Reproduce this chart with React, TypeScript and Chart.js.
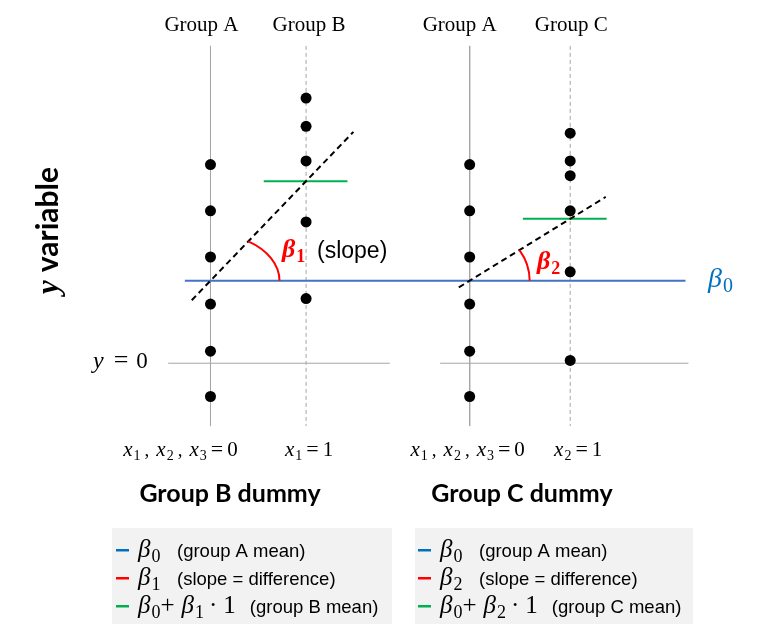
import React, { useEffect, useRef } from "react";
import { Chart, registerables } from "chart.js";
Chart.register(...registerables);

// ---- data (y variable units) ----
const groupA = [4.3, 3.3, 2.3, 1.28, 0.26, -0.72];
const groupB = [5.74, 5.13, 4.38, 3.06, 1.4];
const groupC = [4.98, 4.38, 4.06, 3.3, 1.98, 0.06];
const dummyValues = [0, 1];
const topLabelsB = ["Group A", "Group B"];
const topLabelsC = ["Group A", "Group C"];
const panelTitles = ["Group B dummy", "Group C dummy"];
const legendNotesB = ["(group A mean)", "(slope = difference)", "(group B mean)"];
const legendNotesC = ["(group A mean)", "(slope = difference)", "(group C mean)"];

const mean = (a: number[]) => a.reduce((s, v) => s + v, 0) / a.length;
const meanA = mean(groupA);
const meanB = mean(groupB);
const meanC = mean(groupC);
const beta1 = meanB - meanA;
const beta2 = meanC - meanA;

const SERIF = '"Liberation Serif", "DejaVu Serif", serif';
const SANS = '"Liberation Sans", Arial, sans-serif';
const BSANS = 'Lato, "Open Sans", sans-serif';
const BLUE = "#4472C4";
const BLUE_T = "#0070C0";
const RED = "#FF0000";
const GREEN = "#00B050";
const GRAY = "#A6A6A6";

type Run = { t: string; f: string; dy?: number; c?: string; gap?: number };

function drawRuns(ctx: CanvasRenderingContext2D, runs: Run[], x: number, y: number, align: "left" | "center" = "left", color = "#000") {
  let total = 0;
  for (const r of runs) {
    ctx.font = r.f;
    total += ctx.measureText(r.t).width + (r.gap || 0);
  }
  let cx = align === "center" ? x - total / 2 : x;
  ctx.textAlign = "left";
  ctx.textBaseline = "alphabetic";
  for (const r of runs) {
    ctx.font = r.f;
    ctx.fillStyle = r.c || color;
    ctx.fillText(r.t, cx, y + (r.dy || 0));
    cx += ctx.measureText(r.t).width + (r.gap || 0);
  }
  return cx;
}

const it = (s: number) => `italic ${s}px ${SERIF}`;
const rm = (s: number) => `${s}px ${SERIF}`;

function betaRuns(sub: string, size: number, color?: string, bold = false, gap = 0): Run[] {
  const w = bold ? "bold " : "";
  return [
    { t: "β", f: `${w}italic ${size}px ${SERIF}`, c: color, gap: 1 },
    { t: sub, f: `${w}${Math.round(size * 0.7)}px ${SERIF}`, dy: size * 0.2, c: color, gap },
  ];
}

function xLabel(subs: string[], value: string, sp: number): Run[] {
  const runs: Run[] = [];
  subs.forEach((s, i) => {
    runs.push({ t: "x", f: it(21), gap: 1 });
    runs.push({ t: s, f: rm(14), dy: 4, gap: sp });
    if (i < subs.length - 1) runs.push({ t: ",", f: rm(19), gap: sp + 3 });
  });
  runs.push({ t: "=", f: rm(22), gap: 4 });
  runs.push({ t: value, f: rm(21) });
  return runs;
}

const decorPlugin = {
  id: "decor",
  beforeDatasetsDraw(chart: any) {
    const ctx: CanvasRenderingContext2D = chart.ctx;
    ctx.save();
    ctx.fillStyle = "#F2F2F2";
    ctx.fillRect(112, 528, 280, 96);
    ctx.fillRect(415, 528, 278, 96);
    ctx.restore();
  },
  afterDatasetsDraw(chart: any) {
    const ctx: CanvasRenderingContext2D = chart.ctx;
    const sx = chart.scales.x;
    const sx2 = chart.scales.x2;
    const sy = chart.scales.y;
    ctx.save();

    // red angle arcs
    const arcs = [
      { s: sx, mb: meanB, rx: 69, ry: 47 },
      { s: sx2, mb: meanC, rx: 60, ry: 55 },
    ];
    for (const a of arcs) {
      const cx = a.s.getPixelForValue(0);
      const cy = sy.getPixelForValue(meanA);
      const slope = (cy - sy.getPixelForValue(a.mb)) / (a.s.getPixelForValue(1) - cx);
      const t = Math.atan((slope * a.rx) / a.ry);
      ctx.beginPath();
      ctx.strokeStyle = RED;
      ctx.lineWidth = 2;
      ctx.ellipse(cx, cy, a.rx, a.ry, 0, -t, 0);
      ctx.stroke();
    }

    // top group labels
    const offB = [-9, 3];
    const offC = [-10, 1];
    dummyValues.forEach((d, i) => {
      drawRuns(ctx, [{ t: topLabelsB[i], f: rm(21) }], sx.getPixelForValue(d) + offB[i], 31, "center");
      drawRuns(ctx, [{ t: topLabelsC[i], f: rm(21) }], sx2.getPixelForValue(d) + offC[i], 31, "center");
    });

    // x labels
    drawRuns(ctx, xLabel(["1", "2", "3"], "0", 4), sx.getPixelForValue(0) - 30, 456, "center");
    drawRuns(ctx, xLabel(["1"], "1", 4), sx.getPixelForValue(1) + 3, 456, "center");
    drawRuns(ctx, xLabel(["1", "2", "3"], "0", 4), sx2.getPixelForValue(0) - 2, 456, "center");
    drawRuns(ctx, xLabel(["2"], "1", 4), sx2.getPixelForValue(1) + 8, 456, "center");

    // panel titles
    drawRuns(ctx, [{ t: panelTitles[0], f: `bold 25px ${BSANS}` }], 230, 502, "center");
    drawRuns(ctx, [{ t: panelTitles[1], f: `bold 25px ${BSANS}` }], 522, 502, "center");

    // y = 0 label
    drawRuns(ctx, [{ t: "y", f: it(24), gap: 10 }, { t: "=", f: rm(26), gap: 8 }, { t: "0", f: rm(23) }], 93, sy.getPixelForValue(0) + 5);

    // y variable (rotated)
    ctx.save();
    ctx.translate(58, 294);
    ctx.rotate(-Math.PI / 2);
    drawRuns(ctx, [{ t: "y", f: `bold italic 31px ${SERIF}`, gap: 8 }, { t: "variable", f: `bold 30px ${BSANS}` }], 0, 0);
    ctx.restore();

    // beta labels on chart
    const yA = sy.getPixelForValue(meanA);
    drawRuns(ctx, betaRuns("1", 26, RED, true), 282, 257);
    drawRuns(ctx, [{ t: "(slope)", f: `23px ${SANS}` }], 317, 258);
    drawRuns(ctx, betaRuns("2", 26, RED, true), 537, 269);
    drawRuns(ctx, betaRuns("0", 28, BLUE_T), 708, yA + 6);

    // legends
    const legends = [
      { x: 116, b: "1", notes: legendNotesB },
      { x: 418, b: "2", notes: legendNotesC },
    ];
    const rowY = [557, 585, 613];
    const cols = [BLUE_T, RED, GREEN];
    const NOTE = `18.5px ${SANS}`;
    for (const L of legends) {
      rowY.forEach((yb, i) => {
        ctx.fillStyle = cols[i];
        ctx.fillRect(L.x, yb - 8, 13, 2.5);
        const bx = L.x + 22;
        if (i === 0) {
          drawRuns(ctx, betaRuns("0", 25), bx, yb);
          drawRuns(ctx, [{ t: L.notes[i], f: NOTE }], bx + 39, yb);
        } else if (i === 1) {
          drawRuns(ctx, betaRuns(L.b, 25), bx, yb);
          drawRuns(ctx, [{ t: L.notes[i], f: NOTE }], bx + 39, yb);
        } else {
          const e = drawRuns(
            ctx,
            [
              ...betaRuns("0", 25),
              { t: "+", f: rm(25), gap: 7 },
              ...betaRuns(L.b, 25, undefined, false, 5),
              { t: "·", f: rm(25), gap: 6 },
              { t: "1", f: rm(25) },
            ],
            bx,
            yb
          );
          drawRuns(ctx, [{ t: L.notes[i], f: NOTE }], e + 14, yb);
        }
      });
    }
    ctx.restore();
  },
};

function line(points: { x: number; y: number }[], axis: string, color: string, width: number, dash: number[] = [], order = 2) {
  return {
    data: points,
    xAxisID: axis,
    showLine: true,
    borderColor: color,
    borderWidth: width,
    borderDash: dash,
    pointRadius: 0,
    fill: false,
    order,
  };
}

function pts(vals: number[], xv: number, axis: string) {
  return {
    data: vals.map((y) => ({ x: xv, y })),
    xAxisID: axis,
    showLine: false,
    pointRadius: 5.5,
    pointBackgroundColor: "#000",
    pointBorderColor: "#000",
    pointBorderWidth: 0,
    order: 0,
  };
}

export default function App() {
  const ref = useRef<HTMLCanvasElement | null>(null);
  useEffect(() => {
    document.body.style.margin = "0";
    if (!ref.current) return;
    const vTop = 6.87;
    const vBot = -1.36;
    const chart = new Chart(ref.current, {
      type: "scatter",
      data: {
        datasets: [
          pts(groupA, 0, "x"),
          pts(groupB, 1, "x"),
          pts(groupA, 0, "x2"),
          pts(groupC, 1, "x2"),
          line([{ x: 0, y: vTop }, { x: 0, y: vBot }], "x", GRAY, 1, [], 5),
          line([{ x: 1, y: vTop }, { x: 1, y: vBot }], "x", GRAY, 1, [4, 3], 5),
          line([{ x: 0, y: vTop }, { x: 0, y: vBot }], "x2", GRAY, 1, [], 5),
          line([{ x: 1, y: vTop }, { x: 1, y: vBot }], "x2", GRAY, 1, [4, 3], 5),
          line([{ x: -0.443, y: 0 }, { x: 1.876, y: 0 }], "x", GRAY, 1, [], 5),
          line([{ x: -0.294, y: 0 }, { x: 2.176, y: 0 }], "x2", GRAY, 1, [], 5),
          line([{ x: -0.268, y: meanA }, { x: 4.969, y: meanA }], "x", BLUE, 2, [], 3),
          line([{ x: -0.196, y: meanA - 0.196 * beta1 }, { x: 1.495, y: meanA + 1.495 * beta1 }], "x", "#000", 2, [6, 4], 2),
          line([{ x: -0.108, y: meanA - 0.108 * beta2 }, { x: 1.353, y: meanA + 1.353 * beta2 }], "x2", "#000", 2, [6, 4], 2),
          line([{ x: 0.557, y: meanB }, { x: 1.433, y: meanB }], "x", GREEN, 2, [], 2),
          line([{ x: 0.529, y: meanC }, { x: 1.363, y: meanC }], "x2", GREEN, 2, [], 2),
        ] as any,
      },
      options: {
        responsive: false,
        animation: false,
        layout: { padding: 0 },
        plugins: { legend: { display: false }, tooltip: { enabled: false } },
        scales: {
          x: { type: "linear", display: false, min: -208 / 97, max: (759 - 208) / 97 },
          x2: { type: "linear", display: false, min: -471 / 102, max: (759 - 471) / 102 },
          y: { type: "linear", display: false, min: -275 / 47, max: 364 / 47 },
        },
      } as any,
      plugins: [decorPlugin],
    });
    return () => chart.destroy();
  }, []);
  return <canvas ref={ref} width={759} height={639} style={{ display: "block" }} />;
}
